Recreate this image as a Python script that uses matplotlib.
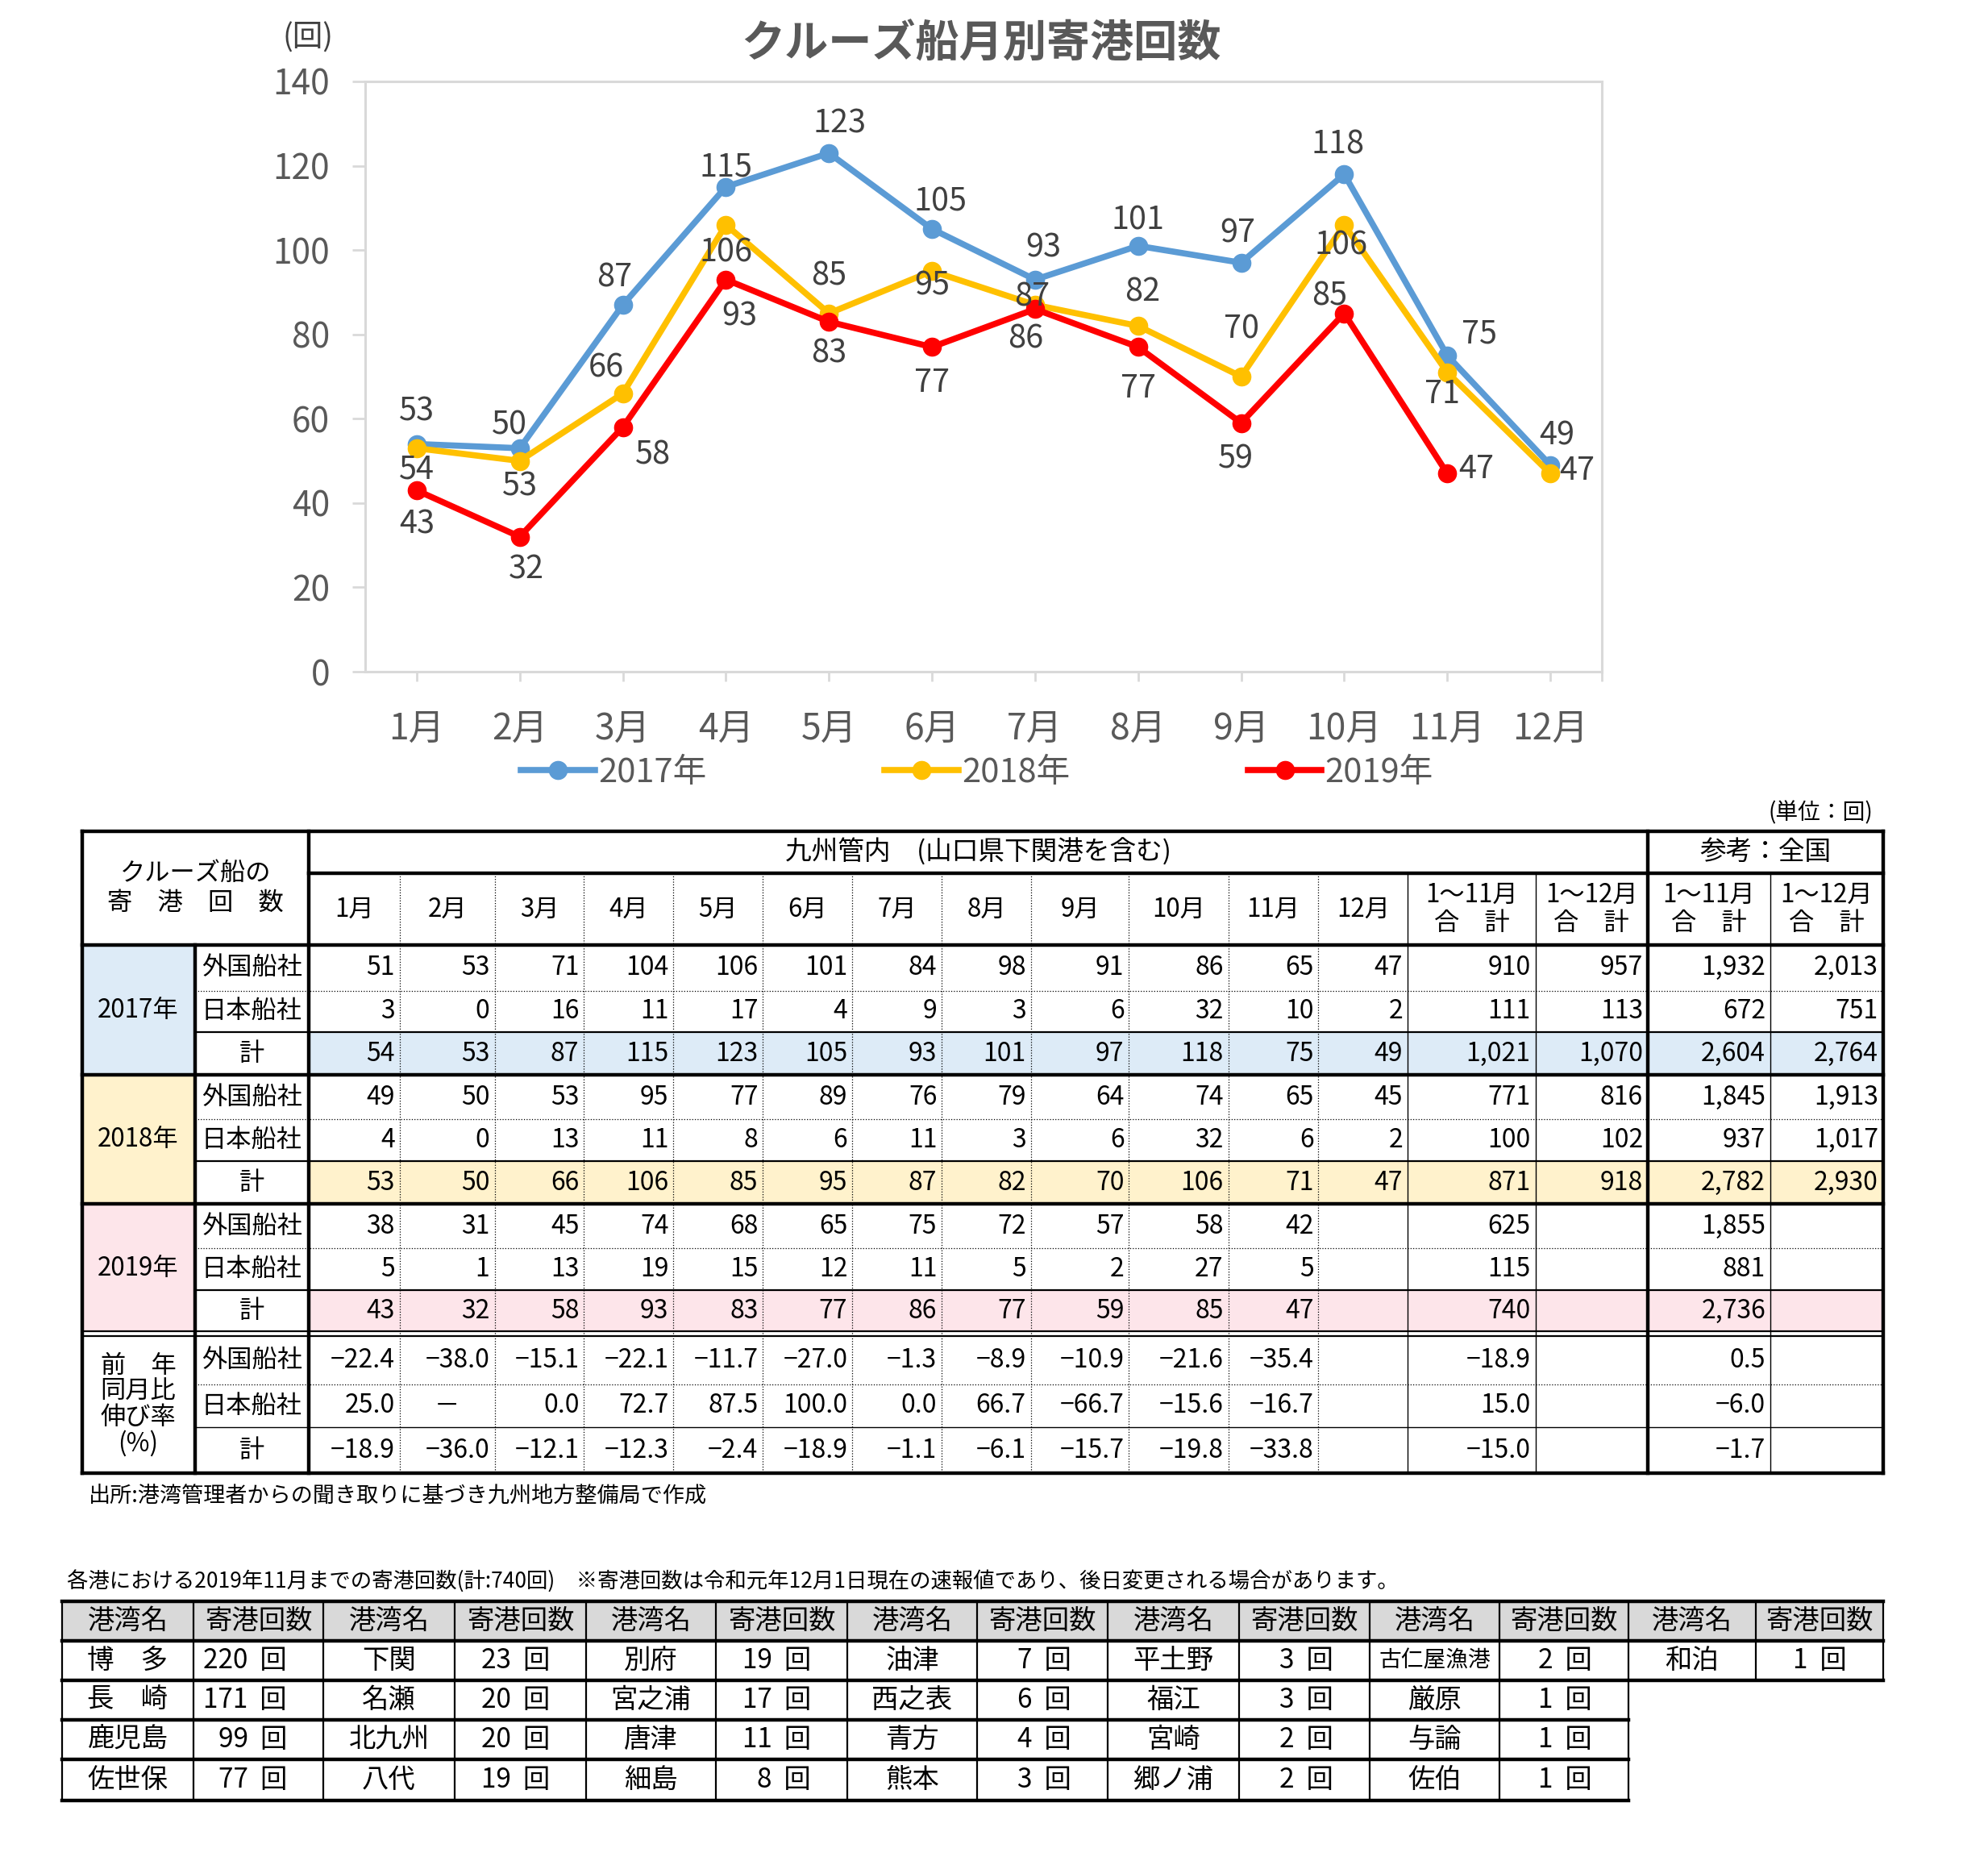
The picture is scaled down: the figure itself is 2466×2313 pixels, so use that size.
import matplotlib
matplotlib.use('Agg')
import matplotlib.pyplot as plt
from matplotlib.patches import Rectangle

plt.rcParams['font.family'] = ['Noto Sans CJK JP', 'DejaVu Sans']

W, H = 2466, 2313

# ---------------- chart data ----------------
months = ['1月', '2月', '3月', '4月', '5月', '6月', '7月', '8月', '9月', '10月', '11月', '12月']
series_names = ['2017年', '2018年', '2019年']
total_2017 = [54, 53, 87, 115, 123, 105, 93, 101, 97, 118, 75, 49]
total_2018 = [53, 50, 66, 106, 85, 95, 87, 82, 70, 106, 71, 47]
total_2019 = [43, 32, 58, 93, 83, 77, 86, 77, 59, 85, 47]

# ---------------- table data (九州管内 + 全国) ----------------
foreign_2017 = [51, 53, 71, 104, 106, 101, 84, 98, 91, 86, 65, 47]
japan_2017 = [3, 0, 16, 11, 17, 4, 9, 3, 6, 32, 10, 2]
foreign_2018 = [49, 50, 53, 95, 77, 89, 76, 79, 64, 74, 65, 45]
japan_2018 = [4, 0, 13, 11, 8, 6, 11, 3, 6, 32, 6, 2]
foreign_2019 = [38, 31, 45, 74, 68, 65, 75, 72, 57, 58, 42]
japan_2019 = [5, 1, 13, 19, 15, 12, 11, 5, 2, 27, 5]
# 1~11月合計, 1~12月合計, 全国1~11月, 全国1~12月
foreign_sums_2017 = [910, 957, 1932, 2013]
japan_sums_2017 = [111, 113, 672, 751]
total_sums_2017 = [1021, 1070, 2604, 2764]
foreign_sums_2018 = [771, 816, 1845, 1913]
japan_sums_2018 = [100, 102, 937, 1017]
total_sums_2018 = [871, 918, 2782, 2930]
foreign_sums_2019 = [625, None, 1855, None]
japan_sums_2019 = [115, None, 881, None]
total_sums_2019 = [740, None, 2736, None]
pct_foreign = [-22.4, -38.0, -15.1, -22.1, -11.7, -27.0, -1.3, -8.9, -10.9, -21.6, -35.4]
pct_japan = [25.0, '－', 0.0, 72.7, 87.5, 100.0, 0.0, 66.7, -66.7, -15.6, -16.7]
pct_total = [-18.9, -36.0, -12.1, -12.3, -2.4, -18.9, -1.1, -6.1, -15.7, -19.8, -33.8]
pct_foreign_sums = [-18.9, None, 0.5, None]
pct_japan_sums = [15.0, None, -6.0, None]
pct_total_sums = [-15.0, None, -1.7, None]

# ---------------- ports (2019年11月まで) ----------------
port_names = [['博　多', '長　崎', '鹿児島', '佐世保'],
              ['下関', '名瀬', '北九州', '八代'],
              ['別府', '宮之浦', '唐津', '細島'],
              ['油津', '西之表', '青方', '熊本'],
              ['平土野', '福江', '宮崎', '郷ノ浦'],
              ['古仁屋漁港', '厳原', '与論', '佐伯'],
              ['和泊']]
port_counts = [[220, 171, 99, 77],
               [23, 20, 20, 19],
               [19, 17, 11, 8],
               [7, 6, 4, 3],
               [3, 3, 2, 2],
               [2, 1, 1, 1],
               [1]]

colors = ['#5B9BD5', '#FFC000', '#FF0000']
# data label offsets (x in categories, y in values)
offs_2017 = [(0, -6), (0, -9.1), (-0.08, 6.4), (0, 4.6), (0.1, 7), (0.08, 6.5),
             (0.08, 7.5), (0, 6), (-0.03, 7), (-0.06, 7), (0.31, 5), (0.06, 6.9)]
offs_2018 = [(0, 8.7), (-0.1, 8.5), (-0.16, 6), (0, -6.7), (0, 8.8), (0, -3.4),
             (-0.03, 1.8), (0.04, 8), (0, 11.2), (-0.03, -5), (-0.05, -5.3), (0.26, 0.7)]
offs_2019 = [(0, -8.1), (0.06, -7.9), (0.29, -6.7), (0.13, -8.7), (0, -7.5), (0, -8.6),
             (-0.09, -7.2), (0, -9.8), (-0.05, -8.6), (-0.14, 4.1), (0.28, 1)]

fig = plt.figure(figsize=(W / 100, H / 100), dpi=100)

# ---------------- line chart ----------------
ax = fig.add_axes([453 / W, 1 - 833 / H, (1987 - 453) / W, (833 - 101) / H])
handles = []
for k, (vals, col, offs) in enumerate(zip([total_2017, total_2018, total_2019], colors,
                                          [offs_2017, offs_2018, offs_2019])):
    ln, = ax.plot(range(len(vals)), vals, color=col, lw=5.5, marker='o', ms=16,
                  solid_joinstyle='round', zorder=3 + k)
    handles.append(ln)
    for i, v in enumerate(vals):
        ax.text(i + offs[i][0], v + offs[i][1], str(v), ha='center', va='center',
                fontsize=28.5, color='#404040', zorder=10)

ax.set_xlim(-0.5, 11.5)
ax.set_ylim(0, 140)
ax.set_yticks(range(0, 141, 20))
ax.set_xticks(range(12))
ax.set_xticklabels(months)
ax.set_xticks([11.5], minor=True)
for s in ax.spines.values():
    s.set_color('#D9D9D9')
    s.set_linewidth(2.2)
ax.tick_params(axis='y', length=11.5, width=2, color='#D9D9D9', labelsize=30.5,
               labelcolor='#595959', pad=20)
ax.tick_params(axis='x', which='both', length=8.6, width=2, color='#D9D9D9', labelsize=32,
               labelcolor='#595959', pad=26)

fig.text(1217 / W, 1 - 55 / H, 'クルーズ船月別寄港回数', ha='center', va='center',
         fontsize=39, fontweight='bold', color='#595959')
fig.text(382 / W, 1 - 47 / H, '(回)', ha='center', va='center', fontsize=27, color='#404040')

fig.legend(handles, series_names, loc='center', bbox_to_anchor=(1212 / W, 1 - 958 / H),
           ncol=3, frameon=False, fontsize=30, handlelength=2.2, handletextpad=0.1,
           columnspacing=5.3, labelcolor='#595959')

# ---------------- tables (pixel coordinates) ----------------
tax = fig.add_axes([0, 0, 1, 1], zorder=-1)
tax.set_xlim(0, W)
tax.set_ylim(H, 0)
tax.axis('off')

THICK, MED, THIN, DOT = 3.2, 1.6, 1.0, 0.9


def hline(y, x0, x1, lw, ls='-'):
    tax.plot([x0, x1], [y, y], color='black', lw=lw, ls=ls, solid_capstyle='projecting', zorder=2)


def vline(x, y0, y1, lw, ls='-'):
    tax.plot([x, x], [y0, y1], color='black', lw=lw, ls=ls, solid_capstyle='projecting', zorder=2)


def fmt(v):
    if v is None:
        return ''
    if isinstance(v, str):
        return v
    if isinstance(v, float):
        return f'{v:.1f}'.replace('-', '−')
    return f'{v:,}'


L, XY, XL, R = 101.5, 241.5, 383, 2336
TOP, HMID, HBOT = 1031, 1083, 1172
col_edges = [383, 496, 613.5, 724.4, 835.4, 946.4, 1057.3, 1168.3, 1278.7, 1400.4,
             1523.7, 1635.4, 1746.3, 1904.5, 2044, 2196, 2336]
row_edges = [1172, 1228.5, 1280, 1333, 1388, 1440, 1493, 1548, 1600, 1652]
pct_edges = [1657, 1717, 1770, 1827]
fills = ['#DDEBF7', '#FFF2CC', '#FDE5EA']
TF = 22.5

pad12 = lambda a: list(a) + [None] * (12 - len(a))
data_rows = [
    pad12(foreign_2017) + foreign_sums_2017, pad12(japan_2017) + japan_sums_2017,
    pad12(total_2017) + total_sums_2017,
    pad12(foreign_2018) + foreign_sums_2018, pad12(japan_2018) + japan_sums_2018,
    pad12(total_2018) + total_sums_2018,
    pad12(foreign_2019) + foreign_sums_2019, pad12(japan_2019) + japan_sums_2019,
    pad12(total_2019) + total_sums_2019,
]
pct_rows = [pad12(pct_foreign) + pct_foreign_sums, pad12(pct_japan) + pct_japan_sums,
            pad12(pct_total) + pct_total_sums]
row_labels = ['外国船社', '日本船社', '計']

# fills
for g in range(3):
    y0, y1 = row_edges[3 * g], row_edges[3 * g + 3]
    tax.add_patch(Rectangle((L, y0), XY - L, y1 - y0, color=fills[g], zorder=1, lw=0))
    tax.add_patch(Rectangle((XL, row_edges[3 * g + 2]), R - XL,
                            row_edges[3 * g + 3] - row_edges[3 * g + 2], color=fills[g], zorder=1, lw=0))

# header text
tax.text((L + XL) / 2, (TOP + HBOT) / 2, 'クルーズ船の\n寄　港　回　数', ha='center', va='center',
         fontsize=TF, linespacing=1.2, zorder=3)
tax.text((XL + 2044) / 2, (TOP + HMID) / 2, '九州管内　(山口県下関港を含む)', ha='center', va='center',
         fontsize=23.5, zorder=3)
tax.text((2044 + R) / 2, (TOP + HMID) / 2, '参考：全国', ha='center', va='center', fontsize=23.5, zorder=3)
col_heads = months + ['1～11月\n合　計', '1～12月\n合　計', '1～11月\n合　計', '1～12月\n合　計']
for j, h in enumerate(col_heads):
    tax.text((col_edges[j] + col_edges[j + 1]) / 2, (HMID + HBOT) / 2, h, ha='center', va='center',
             fontsize=TF, linespacing=1.1, zorder=3)

# data text
for r, vals in enumerate(data_rows):
    yc = (row_edges[r] + row_edges[r + 1]) / 2
    tax.text((XY + XL) / 2, yc, row_labels[r % 3], ha='center', va='center', fontsize=TF, zorder=3)
    for j, v in enumerate(vals):
        tax.text(col_edges[j + 1] - 6, yc, fmt(v), ha='right', va='center', fontsize=TF + 0.5, zorder=3)
for g in range(3):
    tax.text((L + XY) / 2, (row_edges[3 * g] + row_edges[3 * g + 3]) / 2, series_names[g],
             ha='center', va='center', fontsize=TF, zorder=3)
for r, vals in enumerate(pct_rows):
    yc = (pct_edges[r] + pct_edges[r + 1]) / 2
    tax.text((XY + XL) / 2, yc, row_labels[r], ha='center', va='center', fontsize=TF, zorder=3)
    for j, v in enumerate(vals):
        if isinstance(v, str):
            tax.text((col_edges[j] + col_edges[j + 1]) / 2, yc, v, ha='center', va='center',
                     fontsize=TF, zorder=3)
        else:
            tax.text(col_edges[j + 1] - 6, yc, fmt(v), ha='right', va='center', fontsize=TF + 0.5, zorder=3)
tax.text((L + XY) / 2, (pct_edges[0] + pct_edges[-1]) / 2, '前　年\n同月比\n伸び率\n(%)',
         ha='center', va='center', fontsize=TF, linespacing=1.0, zorder=3)

# table lines
hline(TOP, L, R, THICK)
hline(HMID, XL, R, THICK)
hline(HBOT, L, R, THICK)
for g in range(3):
    hline(row_edges[3 * g + 1], XY, R, DOT, ':')
    hline(row_edges[3 * g + 2], XY, R, MED)
    if g < 2:
        hline(row_edges[3 * g + 3], L, R, THICK)
hline(1651, L, R, MED)
hline(1657, L, R, MED)
hline(pct_edges[1], XY, R, DOT, ':')
hline(pct_edges[2], XY, R, THIN)
hline(pct_edges[3], L, R, THICK)
vline(L, TOP, pct_edges[3], THICK)
vline(R, TOP, pct_edges[3], THICK)
vline(XY, HBOT, pct_edges[3], THICK)
vline(XL, TOP, pct_edges[3], THICK)
vline(2044, TOP, pct_edges[3], THICK)
for j in range(1, 12):
    vline(col_edges[j], HMID, pct_edges[3], DOT, ':')
for x in (1746.3, 1904.5, 2196):
    vline(x, HMID, pct_edges[3], THIN)

tax.text(2323, 1008, '(単位：回)', ha='right', va='center', fontsize=20, zorder=3)
tax.text(110, 1855, '出所:港湾管理者からの聞き取りに基づき九州地方整備局で作成', ha='left', va='center',
         fontsize=19.5, zorder=3)
tax.text(83, 1962, '各港における2019年11月までの寄港回数(計:740回)　※寄港回数は令和元年12月1日現在の速報値であり、後日変更される場合があります。',
         ha='left', va='center', fontsize=19, zorder=3)

# ports table
p_cols = [77, 240, 401, 564, 727, 888, 1051, 1212, 1374, 1537, 1699, 1860, 2020, 2178, 2336]
p_rows = [1986, 2035, 2084, 2133, 2182, 2233]
tax.add_patch(Rectangle((p_cols[0], p_rows[0]), p_cols[-1] - p_cols[0], p_rows[1] - p_rows[0],
                        color='#D9D9D9', zorder=1, lw=0))
PF = 24
for k in range(len(port_names)):
    xa, xb, xc = p_cols[2 * k], p_cols[2 * k + 1], p_cols[2 * k + 2]
    yh = (p_rows[0] + p_rows[1]) / 2
    tax.text((xa + xb) / 2, yh, '港湾名', ha='center', va='center', fontsize=PF, zorder=3)
    tax.text((xb + xc) / 2, yh, '寄港回数', ha='center', va='center', fontsize=PF, zorder=3)
    for r, (nm, cnt) in enumerate(zip(port_names[k], port_counts[k])):
        yc = (p_rows[r + 1] + p_rows[r + 2]) / 2
        tax.text((xa + xb) / 2, yc, nm, ha='center', va='center',
                 fontsize=PF if len(nm) <= 3 else 20, zorder=3)
        tax.text(xc - 45, yc, f'{cnt}  回', ha='right', va='center', fontsize=PF, zorder=3)
for i, y in enumerate(p_rows):
    hline(y, p_cols[0], p_cols[-1] if i <= 2 else p_cols[12], THICK)
for i, x in enumerate(p_cols):
    if i <= 12:
        vline(x, p_rows[0], p_rows[-1], MED)
    else:
        vline(x, p_rows[0], p_rows[2], MED)

fig.savefig('out.png', dpi=100)
